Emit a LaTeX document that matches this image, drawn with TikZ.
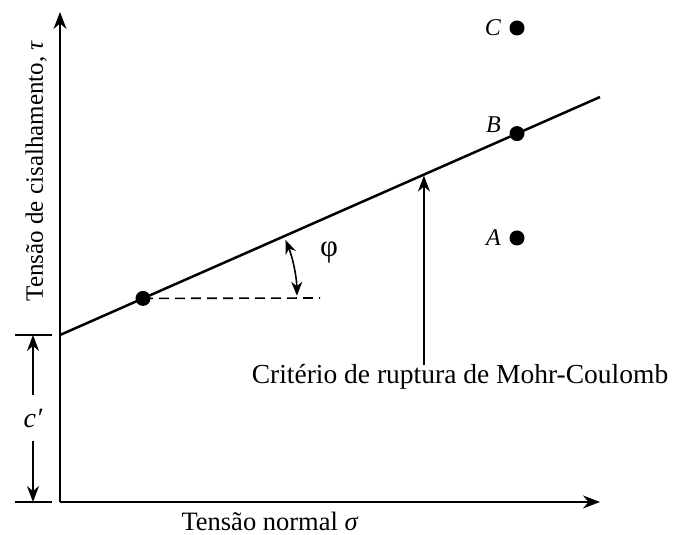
\documentclass[tikz,border=0pt]{standalone}
\usepackage{fontspec}
\setmainfont{Liberation Serif}
\usetikzlibrary{arrows.meta,positioning,calc}

\begin{document}
\begin{tikzpicture}[
    x=1pt, y=1pt,
    axis/.style={line width=1.9pt, -{Stealth[length=17pt, width=13pt]}},
    dimline/.style={line width=1.6pt, -{Stealth[length=16pt, width=12pt]}},
    tick/.style={line width=1.6pt},
    envelope/.style={line width=2.5pt},
    dot/.style={circle, fill=black, inner sep=0pt, minimum size=15pt},
    pointlab/.style={font=\fontsize{24}{26}\selectfont\itshape, anchor=east},
    txt/.style={font=\fontsize{25}{28}\selectfont}
  ]
  \useasboundingbox (0,0) rectangle (678,535);

  % axes
  \coordinate (O) at (60,33);
  \coordinate (ytip) at (60,523);
  \coordinate (xtip) at (600,33);
  \draw[axis] (O) -- (ytip);
  \draw[axis] (O) -- (xtip);
  \node[txt, font=\fontsize{25}{28}\selectfont, rotate=90] (ylab) at (36,364)
    {Tensão de cisalhamento, \textit{τ}};
  \node[txt, font=\fontsize{26.5}{28}\selectfont] (xlab) at (270,14) {Tensão normal \textit{σ}};

  % Mohr-Coulomb envelope
  \coordinate (L0) at (60,200);
  \coordinate (L1) at (600,438);
  \draw[envelope] (L0) -- (L1);

  \node[dot] (P) at ($(L0)!0.1537!(L1)$) {};
  \node[dot] (B) at ($(L0)!0.8463!(L1)$) {};
  \node[dot] (C) at (517,507) {};
  \node[dot] (A) at (517,297) {};
  \node[pointlab] at ([xshift=-5pt]B.west |- 0,410) {B};
  \node[pointlab] at ([xshift=-5pt]C.west) {C};
  \node[pointlab] at ([xshift=-5pt]A.west) {A};

  % friction angle
  \coordinate (dashend) at (320,237);
  \draw[line width=1.6pt, dash pattern=on 10pt off 6pt] (P.center) -- (dashend);
  \draw[line width=1.6pt, {Stealth[length=14pt, width=11pt]}-{Stealth[length=14pt, width=11pt]}]
    ([shift={(1:154)}]P.center) arc[start angle=1, end angle=22.3, radius=154];
  \node[font=\fontsize{31}{34}\selectfont] (phi) at (329,283) {φ};

  % criterion label
  \coordinate (M) at ($(L0)!0.674!(L1)$);
  \node[txt, font=\fontsize{27.5}{30}\selectfont] (crit) at (460,158)
    {Critério de ruptura de Mohr-Coulomb};
  \coordinate (foot) at (M |- 0,170);
  \draw[dimline] (foot) -- ([yshift=-1pt]M);

  % cohesion intercept
  \coordinate (ctop) at (33,200);
  \coordinate (cbot) at (33,33);
  \draw[tick] (15,200) -- (52,200);
  \draw[tick] (15,33) -- (52,33);
  \node[font=\fontsize{28}{30}\selectfont\itshape, minimum height=46pt, inner sep=0pt]
    (clab) at (33,117) {c′};
  \draw[dimline] (clab.north) -- (ctop);
  \draw[dimline] (clab.south) -- (cbot);
\end{tikzpicture}
\end{document}
